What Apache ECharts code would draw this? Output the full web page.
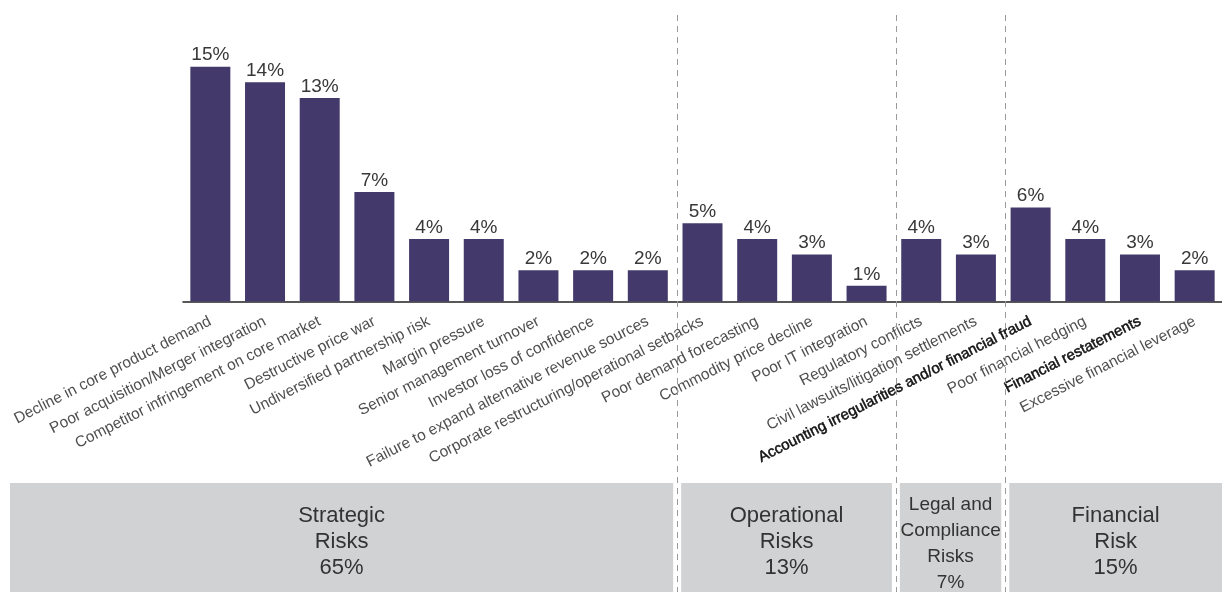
<!DOCTYPE html>
<html><head><meta charset="utf-8">
<script src="https://cdn.jsdelivr.net/npm/echarts@6/dist/echarts.min.js"></script>
<style>html,body{margin:0;padding:0;background:#fff}#main{width:1222px;height:592px}</style>
</head><body><div id="main"></div>
<script>
const categories = [
  'Decline in core product demand',
  'Poor acquisition/Merger integration',
  'Competitor infringement on core market',
  'Destructive price war',
  'Undiversified partnership risk',
  'Margin pressure',
  'Senior management turnover',
  'Investor loss of confidence',
  'Failure to expand alternative revenue sources',
  'Corporate restructuring/operational setbacks',
  'Poor demand forecasting',
  'Commodity price decline',
  'Poor IT integration',
  'Regulatory conflicts',
  'Civil lawsuits/litigation settlements',
  'Accounting irregularities and/or financial fraud',
  'Poor financial hedging',
  'Financial restatements',
  'Excessive financial leverage'
];
const values = [15, 14, 13, 7, 4, 4, 2, 2, 2, 5, 4, 3, 1, 4, 3, 6, 4, 3, 2];
const boldCategories = ['Accounting irregularities and/or financial fraud', 'Financial restatements'];
const groupTitles = ['Strategic\nRisks', 'Operational\nRisks', 'Legal and\nCompliance\nRisks', 'Financial\nRisk'];
const groupShares = [65, 13, 7, 15];
const groupSizes = [9, 4, 2, 4];

const FONT = '"Liberation Sans", Arial, Helvetica, sans-serif';
const chart = echarts.init(document.getElementById('main'), null, {renderer: 'canvas'});

chart.setOption({
  animation: false,
  backgroundColor: '#fff',
  grid: {left: 183, right: -2, top: 51, bottom: 290.5, containLabel: false},
  xAxis: {
    type: 'category',
    data: categories,
    axisTick: {show: false},
    axisLine: {lineStyle: {color: '#222', width: 1.5}},
    axisLabel: {
      interval: 0,
      rotate: 27,
      margin: 19,
      fontSize: 15.5,
      fontFamily: FONT,
      color: '#4f4f4f',
      formatter: function (v) { return boldCategories.indexOf(v) >= 0 ? '{b|' + v + '}' : v; },
      rich: {b: {fontSize: 15, fontFamily: FONT, color: '#111', textBorderColor: '#111', textBorderWidth: 0.5}}
    }
  },
  yAxis: {
    type: 'value', min: 0, max: 16,
    show: false, splitLine: {show: false}
  },
  series: [{
    type: 'bar',
    data: values,
    barWidth: 40,
    itemStyle: {color: '#433a6b'},
    label: {
      show: true, position: 'top', distance: 2,
      formatter: '{c}%', fontSize: 19, fontFamily: FONT, color: '#383838'
    }
  }]
});

function buildGraphics() {
  const centers = categories.map((c, i) => chart.convertToPixel({xAxisIndex: 0}, i));
  const W = chart.getWidth();
  const boxTop = 483, boxBottom = chart.getHeight();
  const seps = [];
  let cum = 0;
  for (let g = 0; g < groupSizes.length - 1; g++) {
    cum += groupSizes[g];
    seps.push((centers[cum - 1] + centers[cum]) / 2 + 2);
  }
  const elements = [];
  const lefts = [10].concat(seps.map(s => s + 4));
  const rights = seps.map(s => s - 4).concat([W]);
  for (let g = 0; g < groupTitles.length; g++) {
    const x0 = lefts[g], x1 = rights[g];
    elements.push({
      type: 'rect', z: 1,
      shape: {x: x0, y: boxTop, width: x1 - x0, height: boxBottom - boxTop},
      style: {fill: '#d1d2d4'}
    });
    const small = groupTitles[g].split('\n').length > 2;
    elements.push({
      type: 'text', z: 3,
      x: (x0 + x1) / 2, y: small ? 544 : 542,
      style: {
        text: groupTitles[g] + '\n' + groupShares[g] + '%',
        fill: '#333', fontSize: small ? 19 : 22, fontFamily: FONT,
        align: 'center', verticalAlign: 'middle', lineHeight: 26
      }
    });
  }
  seps.forEach(s => {
    elements.push({
      type: 'line', z: 2,
      shape: {x1: Math.round(s) + 0.5, y1: 15, x2: Math.round(s) + 0.5, y2: boxBottom},
      style: {stroke: '#9a9a9a', lineWidth: 1, lineDash: [6, 5]}
    });
  });
  chart.setOption({graphic: {elements: elements}});
}
buildGraphics();
</script>
</body></html>
